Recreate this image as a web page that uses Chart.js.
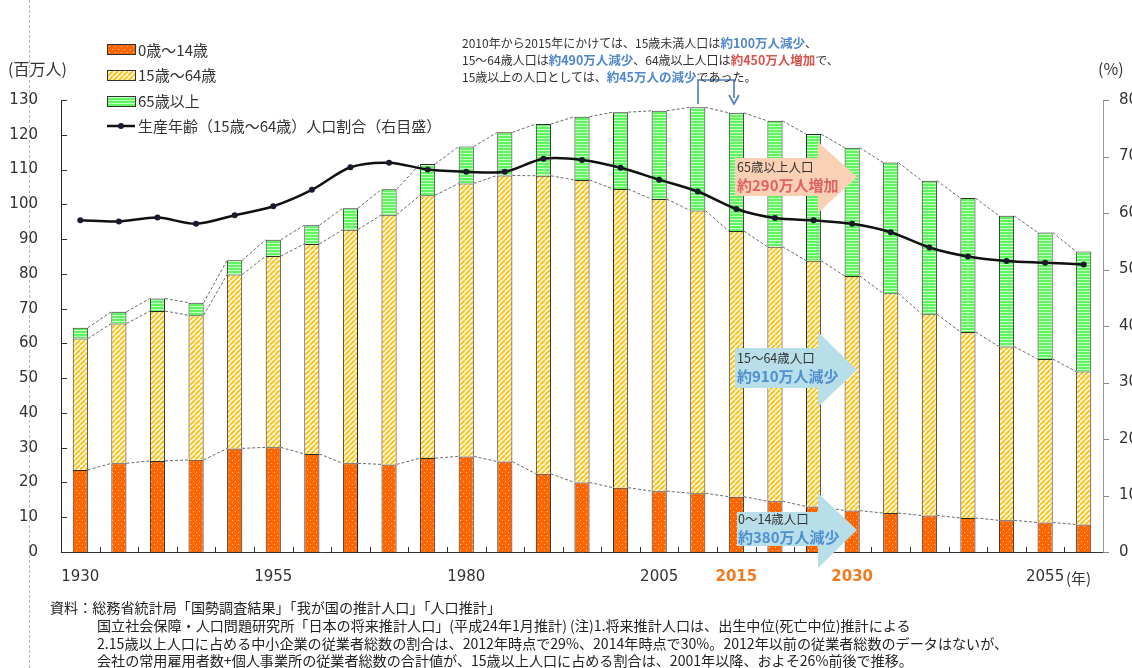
<!DOCTYPE html>
<html lang="ja">
<head>
<meta charset="utf-8">
<title>年齢3区分別人口の推移</title>
<script src="https://cdn.jsdelivr.net/npm/chart.js@4.4.1/dist/chart.umd.min.js"></script>
<style>
  html, body { margin: 0; padding: 0; background: #fff; }
  body {
    width: 1132px; height: 668px; position: relative; overflow: hidden;
    font-family: "Noto Sans CJK JP", "Noto Sans", sans-serif; color: #333;
  }
  #popChart { position: absolute; left: 0; top: 0; }
  #shapes { position: absolute; left: 0; top: 0; pointer-events: none; }
  .abs { position: absolute; white-space: nowrap; }
  .page-rule { position: absolute; left: 29px; top: 0; height: 668px; border-left: 1px dashed #b8b8b8; }
  .unit { font-size: 16px; color: #333; }
  .lg-sw { position: absolute; left: 107px; width: 27px; height: 9px; border: 1px solid #333; }
  .lg-tx { position: absolute; left: 138px; font-size: 15px; line-height: 18px; color: #333; }
  .note { font-size: 12px; line-height: 17px; color: #333; }
  .blue { color: #4f86cc; font-size: 12.5px; font-weight: bold; }
  .red { color: #d9534f; font-size: 12.5px; font-weight: bold; }
  .call { font-size: 12.5px; line-height: 16px; color: #333; }
  .call b { font-size: 15px; line-height: 19px; }
  .foot { font-size: 14.1px; line-height: 18px; color: #222; }
</style>
</head>
<body>
<div class="page-rule"></div>
<canvas id="popChart" width="1132" height="668"></canvas>

<svg id="shapes" width="1132" height="668">
  <!-- callout arrows -->
  <polygon points="735,158 818,158 818,142 857,177 818,213 818,196 735,196" fill="#fbd1b6"/>
  <polygon points="735,348 818,348 818,332 857,370 818,407 818,388 735,388" fill="#b8dfe9"/>
  <polygon points="737,512 818,512 818,493 857,530 818,568 818,546 737,546" fill="#b8dfe9"/>
  <!-- 2010 -> 2015 bracket -->
  <polyline points="698,104 698,80 734,80 734,98" fill="none" stroke="#4a7ebb" stroke-width="1.6"/>
  <polyline points="729,95 734,104 739,95" fill="none" stroke="#4a7ebb" stroke-width="1.6"/>
</svg>

<div class="abs unit" style="left:8px; top:56px;">(百万人)</div>
<div class="abs unit" style="left:1098px; top:56px;">(%)</div>
<div class="abs" style="left:1066px; top:567px; font-size:15px; color:#333;">(年)</div>

<!-- legend -->
<div class="lg-sw" id="swKids" style="top:44px;"></div>
<div class="lg-tx" style="top:41px;">0歳～14歳</div>
<div class="lg-sw" id="swWork" style="top:70px;"></div>
<div class="lg-tx" style="top:66px;">15歳～64歳</div>
<div class="lg-sw" id="swOld" style="top:96px;"></div>
<div class="lg-tx" style="top:92px;">65歳以上</div>
<svg class="abs" style="left:105px; top:120px;" width="32" height="12">
  <line x1="2" y1="6" x2="30" y2="6" stroke="#111" stroke-width="2.5"/>
  <circle cx="16" cy="6" r="3" fill="#1a1a2e"/>
</svg>
<div class="lg-tx" style="top:117px;">生産年齢（15歳～64歳）人口割合（右目盛）</div>

<div class="abs note" style="left:462px; top:34px;">
  2010年から2015年にかけては、15歳未満人口は<span class="blue">約100万人減少</span>、<br>
  15～64歳人口は<span class="blue">約490万人減少</span>、64歳以上人口は<span class="red">約450万人増加</span>で、<br>
  15歳以上の人口としては、<span class="blue">約45万人の減少</span>であった。
</div>

<div class="abs call" style="left:737px; top:159px;">65歳以上人口<br><b style="color:#e06262;">約290万人増加</b></div>
<div class="abs call" style="left:737px; top:350px;">15～64歳人口<br><b style="color:#4f8fd0;">約910万人減少</b></div>
<div class="abs call" style="left:738px; top:511px;">0～14歳人口<br><b style="color:#4f8fd0;">約380万人減少</b></div>

<div class="abs foot" style="left:50px; top:598px;">資料：総務省統計局「国勢調査結果」「我が国の推計人口」「人口推計」</div>
<div class="abs foot" style="left:97px; top:616px;">国立社会保障・人口問題研究所「日本の将来推計人口」(平成24年1月推計) (注)1.将来推計人口は、出生中位(死亡中位)推計による</div>
<div class="abs foot" style="left:97px; top:634px;">2.15歳以上人口に占める中小企業の従業者総数の割合は、2012年時点で29%、2014年時点で30%。2012年以前の従業者総数のデータはないが、</div>
<div class="abs foot" style="left:97px; top:651px;">会社の常用雇用者数+個人事業所の従業者総数の合計値が、15歳以上人口に占める割合は、2001年以降、およそ26%前後で推移。</div>

<script>
// census years (1930-2010) and projections (2015-2060)
const years = ['1930', '1935', '1940', '1945', '1950', '1955', '1960', '1965', '1970',
               '1975', '1980', '1985', '1990', '1995', '2000', '2005', '2010', '2015',
               '2020', '2025', '2030', '2035', '2040', '2045', '2050', '2055', '2060'];
const shownYears = ['1930', '1955', '1980', '2005', '2015', '2030', '2055'];
const projectedYears = ['2015', '2030'];

// population by age group, millions
const kids = [23.6, 25.5, 26.2, 26.5, 29.8, 30.1, 28.2, 25.5, 25.2, 27.0, 27.5, 26.0, 22.5, 20.0,
              18.5, 17.5, 16.9, 15.9, 14.6, 13.1, 11.9, 11.2, 10.5, 9.8, 9.1, 8.5, 7.9];
const working = [37.8, 40.2, 43.1, 41.6, 50.0, 55.0, 60.4, 67.2, 71.8, 75.6, 78.5, 82.3, 85.7, 87.0,
                 85.9, 84.0, 81.3, 76.4, 73.2, 70.7, 67.5, 63.2, 57.9, 53.5, 50.0, 47.0, 44.0];
const elderly = [3.1, 3.4, 3.6, 3.6, 4.1, 4.7, 5.4, 6.2, 7.3, 9.0, 10.6, 12.4, 14.9, 18.2,
                 22.1, 25.4, 29.7, 34.0, 36.2, 36.4, 36.9, 37.6, 38.4, 38.5, 37.6, 36.4, 34.5];
// share of 15-64 in total population, %
const workingShare = [58.7, 58.5, 59.2, 58.1, 59.6, 61.2, 64.1, 68.1, 68.9, 67.7, 67.3, 67.3, 69.6, 69.4,
                      68.0, 65.9, 63.8, 60.7, 59.1, 58.7, 58.1, 56.6, 53.9, 52.3, 51.5, 51.2, 50.9];

const leftTicks = [0, 130, 10];
const rightTicks = [0, 80, 10];

// small repeating tiles used as bar fills
function makeTile(kind) {
    const c = document.createElement('canvas');
    const g = c.getContext('2d');
    if (kind === 'dots') {
        c.width = 6; c.height = 6;
        g.fillStyle = '#ff6600'; g.fillRect(0, 0, 6, 6);
        g.fillStyle = 'rgba(255,215,180,0.85)';
        g.fillRect(1, 1, 1, 1); g.fillRect(4, 4, 1, 1);
    } else if (kind === 'hatch') {
        c.width = 5; c.height = 5;
        g.fillStyle = '#fffdf0'; g.fillRect(0, 0, 5, 5);
        g.strokeStyle = '#ffc21a'; g.lineWidth = 2;
        g.beginPath();
        for (let k = -5; k <= 10; k += 5) { g.moveTo(k, 5); g.lineTo(k + 5, 0); }
        g.stroke();
    } else {
        c.width = 2; c.height = 3;
        g.fillStyle = '#5ef55e'; g.fillRect(0, 0, 2, 3);
        g.fillStyle = '#c4ffc4'; g.fillRect(0, 0, 2, 1);
    }
    return c;
}

const tiles = { kids: makeTile('dots'), work: makeTile('hatch'), old: makeTile('lines') };
const ctx2d = document.getElementById('popChart').getContext('2d');
const fills = {
    kids: ctx2d.createPattern(tiles.kids, 'repeat'),
    work: ctx2d.createPattern(tiles.work, 'repeat'),
    old: ctx2d.createPattern(tiles.old, 'repeat')
};
document.getElementById('swKids').style.background = 'url(' + tiles.kids.toDataURL() + ')';
document.getElementById('swWork').style.background = 'url(' + tiles.work.toDataURL() + ')';
document.getElementById('swOld').style.background = 'url(' + tiles.old.toDataURL() + ')';

// dashed lines joining the segment tops of neighbouring bars
const seriesLines = {
    id: 'seriesLines',
    beforeDatasetsDraw(chart) {
        const ctx = chart.ctx;
        ctx.save();
        ctx.strokeStyle = '#6a6a6a';
        ctx.lineWidth = 1;
        ctx.setLineDash([3, 2]);
        [0, 1, 2].forEach(d => {
            const bars = chart.getDatasetMeta(d).data;
            for (let i = 0; i < bars.length - 1; i++) {
                const a = bars[i], b = bars[i + 1];
                ctx.beginPath();
                ctx.moveTo(a.x + a.width / 2, a.y);
                ctx.lineTo(b.x - b.width / 2, b.y);
                ctx.stroke();
            }
        });
        ctx.restore();
    }
};

// short tick marks: inside on the left and bottom, outside on the right
const axisTicks = {
    id: 'axisTicks',
    afterDraw(chart) {
        const { ctx, chartArea: a, scales } = chart;
        ctx.save();
        ctx.lineWidth = 1;
        ctx.strokeStyle = '#333';
        ctx.beginPath();
        scales.y.ticks.forEach(t => {
            const py = Math.round(scales.y.getPixelForValue(t.value)) + 0.5;
            ctx.moveTo(a.left, py); ctx.lineTo(a.left + 6, py);
        });
        for (let i = 1; i < years.length; i++) {
            const px = Math.round((scales.x.getPixelForValue(i - 1) + scales.x.getPixelForValue(i)) / 2) + 0.5;
            ctx.moveTo(px, a.bottom); ctx.lineTo(px, a.bottom - 5);
        }
        ctx.stroke();
        ctx.strokeStyle = '#8a8a8a';
        ctx.beginPath();
        scales.y1.ticks.forEach(t => {
            const py = Math.round(scales.y1.getPixelForValue(t.value)) + 0.5;
            ctx.moveTo(a.right, py); ctx.lineTo(a.right + 6, py);
        });
        ctx.stroke();
        ctx.restore();
    }
};

const barStyle = { borderColor: '#2b2b2b', borderWidth: 1, barPercentage: 0.8, categoryPercentage: 0.49, order: 1 };

new Chart(ctx2d, {
    type: 'bar',
    data: {
        labels: years,
        datasets: [
            Object.assign({ label: '0歳～14歳', data: kids, backgroundColor: fills.kids }, barStyle),
            Object.assign({ label: '15歳～64歳', data: working, backgroundColor: fills.work }, barStyle),
            Object.assign({ label: '65歳以上', data: elderly, backgroundColor: fills.old }, barStyle),
            {
                type: 'line',
                label: '生産年齢（15歳～64歳）人口割合（右目盛）',
                data: workingShare,
                yAxisID: 'y1',
                order: 0,
                borderColor: '#111',
                borderWidth: 2.5,
                tension: 0.3,
                pointRadius: 3,
                pointBackgroundColor: '#1a1a2e',
                pointBorderColor: '#1a1a2e',
                pointBorderWidth: 0
            }
        ]
    },
    options: {
        responsive: false,
        animation: false,
        layout: { padding: { top: 100, bottom: 0, left: 0, right: 0 } },
        plugins: { legend: { display: false }, tooltip: { enabled: false } },
        scales: {
            x: {
                stacked: true,
                offset: true,
                grid: { display: false, drawTicks: false },
                border: { color: '#333' },
                afterFit: (scale) => { scale.height = 116; },
                ticks: {
                    autoSkip: false,
                    maxRotation: 0,
                    padding: 16,
                    callback: function (value) {
                        const yr = this.getLabelForValue(value);
                        return shownYears.includes(yr) ? yr : '';
                    },
                    color: (c) => projectedYears.includes(c.tick && c.tick.label) ? '#f47a20' : '#333',
                    font: (c) => projectedYears.includes(c.tick && c.tick.label)
                        ? { family: 'DejaVu Sans', size: 15, weight: 'bold' }
                        : { family: 'DejaVu Sans', size: 15 }
                }
            },
            y: {
                stacked: true,
                position: 'left',
                min: leftTicks[0], max: leftTicks[1],
                grid: { display: false, drawTicks: false },
                border: { color: '#222' },
                afterFit: (scale) => { scale.width = 61; },
                ticks: { stepSize: leftTicks[2], padding: 23, color: '#333', font: { family: 'DejaVu Sans', size: 15 } }
            },
            y1: {
                position: 'right',
                min: rightTicks[0], max: rightTicks[1],
                grid: { display: false, drawTicks: false },
                border: { color: '#999' },
                afterFit: (scale) => { scale.width = 29; },
                ticks: { stepSize: rightTicks[2], padding: 16, color: '#333', font: { family: 'DejaVu Sans', size: 15 } }
            }
        }
    },
    plugins: [seriesLines, axisTicks]
});
</script>
</body>
</html>
